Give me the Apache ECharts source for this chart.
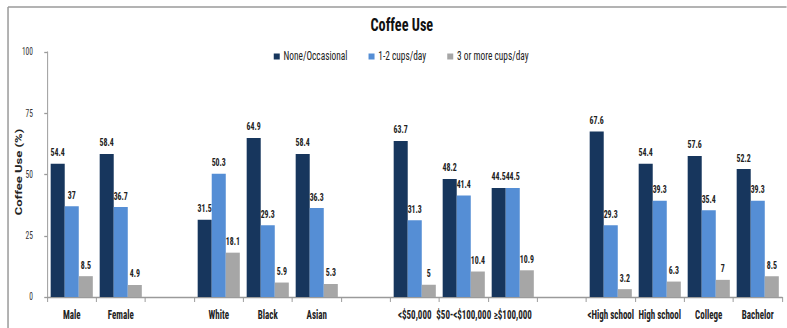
<!DOCTYPE html>
<html>
<head>
<meta charset="utf-8">
<script src="https://cdn.jsdelivr.net/npm/echarts@6/dist/echarts.min.js"></script>
<style>
  html, body { margin: 0; padding: 0; background: #fff; overflow: hidden; }
  /* The chart is laid out wide and squeezed horizontally to give the narrow look of the type */
  #frame { width: 787px; height: 328px; overflow: hidden; }
  #chart { width: 1049px; height: 328px; transform: scaleX(0.75); transform-origin: 0 0; }
</style>
</head>
<body>
<div id="frame"><div id="chart"></div></div>
<script>
// Groups are separated by empty spacer categories
const categories = ['Male', 'Female', '', 'White', 'Black', 'Asian', '',
  '<$50,000', '$50-<$100,000', '≥$100,000', '',
  '<High school', 'High school', 'College', 'Bachelor'];
const seriesNames = ['None/Occasional', '1-2 cups/day', '3 or more cups/day'];
const noneOccasional = [54.4, 58.4, null, 31.5, 64.9, 58.4, null, 63.7, 48.2, 44.5, null, 67.6, 54.4, 57.6, 52.2];
const oneToTwo = [37, 36.7, null, 50.3, 29.3, 36.3, null, 31.3, 41.4, 44.5, null, 29.3, 39.3, 35.4, 39.3];
const threeOrMore = [8.5, 4.9, null, 18.1, 5.9, 5.3, null, 5, 10.4, 10.9, null, 3.2, 6.3, 7, 8.5];
const yTicks = [0, 25, 50, 75, 100];
const yAxisTitle = 'Coffee Use (%)';

const colors = ['#17365d', '#558ed5', '#a6a6a6'];
const font = "'Roboto Condensed', 'Open Sans Condensed', sans-serif";

const chart = echarts.init(document.getElementById('chart'), null, { renderer: 'svg' });

function makeSeries(name, data, color) {
  return {
    name: name,
    type: 'bar',
    data: data,
    itemStyle: { color: color },
    barGap: '0%',
    barCategoryGap: '14%',
    label: {
      show: true,
      position: 'top',
      distance: 6,
      color: '#222',
      fontFamily: font,
      fontWeight: 'bold',
      fontSize: 10.5,
      formatter: p => String(p.value)
    }
  };
}

chart.setOption({
  animation: false,
  textStyle: { fontFamily: font },
  title: {
    text: 'Coffee Use',
    left: 489,
    top: 10,
    textStyle: { fontFamily: font, fontWeight: 'bold', fontSize: 19, color: '#111' }
  },
  legend: {
    data: seriesNames,
    top: 45,
    left: 360,
    itemWidth: 8,
    itemHeight: 6,
    itemGap: 28,
    icon: 'rect',
    textStyle: { fontFamily: font, fontSize: 12.5, color: '#222' }
  },
  graphic: [
    { type: 'line', shape: { x1: 10.7, y1: 7, x2: 10.7, y2: 328 }, style: { stroke: '#9a9a9a', lineWidth: 2 } },
    { type: 'line', shape: { x1: 10.7, y1: 7, x2: 1049, y2: 7 }, style: { stroke: '#9a9a9a', lineWidth: 1.5 } },
    // vertical axis title
    {
      type: 'text', x: 25, y: 172, rotation: Math.PI / 2,
      style: { text: yAxisTitle, font: 'bold 13px Roboto, sans-serif', fill: '#222', align: 'center', verticalAlign: 'middle' }
    }
  ],
  grid: { left: 63, right: 6, top: 52, bottom: 31 },
  xAxis: {
    type: 'category',
    data: categories,
    axisLine: { lineStyle: { color: '#9a9a9a', width: 1.3 } },
    axisTick: { show: true, length: 5, lineStyle: { color: '#9a9a9a', width: 1.3 } },
    axisLabel: { color: '#222', fontFamily: font, fontWeight: 'bold', fontSize: 12, margin: 12, interval: 0 }
  },
  yAxis: {
    type: 'value',
    min: 0,
    max: 100,
    interval: 25,
    axisLine: { show: true, lineStyle: { color: '#9a9a9a', width: 1.3 } },
    axisTick: { show: true, length: 4, lineStyle: { color: '#9a9a9a', width: 1.3 } },
    splitLine: { show: false },
    axisLabel: {
      color: '#333', fontFamily: font, fontSize: 10, margin: 19,
      formatter: v => yTicks.includes(v) ? String(v) : ''
    }
  },
  series: [
    makeSeries(seriesNames[0], noneOccasional, colors[0]),
    makeSeries(seriesNames[1], oneToTwo, colors[1]),
    makeSeries(seriesNames[2], threeOrMore, colors[2])
  ]
});
</script>
</body>
</html>
